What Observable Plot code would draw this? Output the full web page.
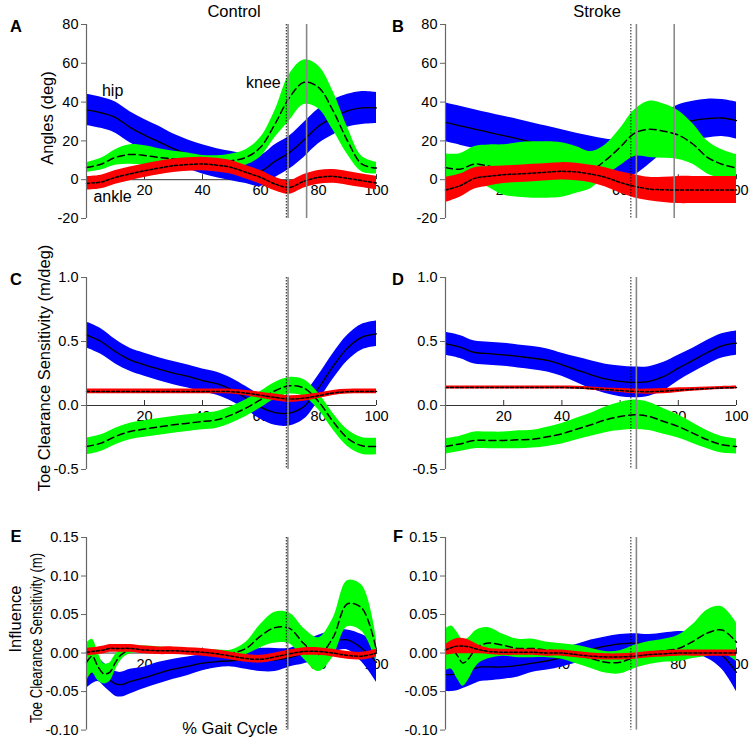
<!DOCTYPE html>
<html><head><meta charset="utf-8">
<script src="https://cdn.jsdelivr.net/npm/d3@7"></script>
<script src="https://cdn.jsdelivr.net/npm/@observablehq/plot@0.6"></script>
<style>
body{margin:0;background:#fff;}
#wrap{position:relative;width:752px;height:742px;overflow:hidden;font-family:"Liberation Sans",Arial,sans-serif;background:#fff;}
#wrap svg{position:absolute;overflow:visible;}
</style></head><body><div id="wrap"></div>
<script>
// ---------- data ----------
const x5 = [0,5,10,15,20,25,30,35,40,45,50,55,60,65,70,75,80,85,90,95,100];
const xE = [0,2,4,6,8,10,12,15,20,25,30,35,40,45,50,55,60,65,70,75,80,85,90,95,100];
const xTicks = [20,40,60,80,100];
const yTicksAngle = [-20,0,20,40,60,80];
const yTicksSens = [-0.5,0,0.5,1.0];
const yTicksInfl = [-0.10,-0.05,0,0.05,0.10,0.15];

const columnTitles = ["Control","Stroke"];
const seriesLabels = ["hip","knee","ankle"];
const seriesLabelX = [9,61,9];
const seriesLabelY = [46,50,-9];

// A: Control angles
const A_hip_m  = [36,34.5,32,27,23,19.5,16,13,10.5,8.5,7,5.5,4.5,9.5,14,20.5,27.5,32,35.5,37,37];
const A_hip_sd = [8,8,8,8,8,8,7.5,7.5,7.5,7.5,7.5,7.5,8,8.5,8.5,9,9,9,8.5,8.5,8];
const A_knee_m = [6.3,8,11.5,13,12.5,11.5,10.7,9.8,9,8.9,9.8,11.5,16.7,28.7,42.4,50.2,47.6,35.6,20,8,6];
const A_knee_sd= [2.5,3,4,5,5,4.5,4,4,3.5,3.5,3.5,4,5,7,12,11.5,11,10,7,4,3];
const A_ank_m  = [-1.9,-1.2,1.2,3,4.6,6,7.2,7.8,8.1,7.5,6.3,3.8,1.2,-2.2,-4,-0.8,1.2,1.7,0.7,-0.5,-1.7];
const A_ank_sd = [3.5,3.5,3.5,3.5,3.5,3.5,3.5,3.5,3.5,3.5,3.5,3.5,3.5,3.5,3.5,3.5,3.5,3.5,3.5,3.5,3.5];
const A_vdot = [68.9], A_vsolid = [69.5,75.9];

// B: Stroke angles
const B_hip_m  = [29.5,27.8,26.1,24.4,22.7,21,19.2,17.5,15.8,14,12.4,11,10.5,12.5,18,24,28.5,30.5,31.5,31.8,30.5];
const B_hip_sd = [10,10,10,10,10,10,10,10,10,10,10,10,10,10,10,10,10,10,10,9.5,9.5];
const B_knee_m = [6.3,5.4,8.1,6.9,5,5,5,5,5,5,5,10,16.7,24,26,25,23,18.4,11.5,8,6];
const B_knee_sd= [7,8,9,11,13,14,14.5,14.5,14,12,9.5,8,9.5,12,14.5,14,12.6,10.5,8.5,7.5,7];
const B_ank_m  = [-5.3,-3.1,0.7,1.8,2.6,3,3.4,3.9,4.3,4,2.9,1.2,-1.4,-3.4,-4.8,-5.2,-5.3,-5.3,-5.3,-5.3,-5.3];
const B_ank_sd = [6.5,6,5.5,5,4.5,4.5,4.5,4.5,4.5,4.5,4.5,5,5.5,6,6,6.5,7,7,7,7,7];
const B_vdot = [63.7], B_vsolid = [65.6,78.6];

// C: Control sensitivity
const C_hip_m  = [0.552,0.5,0.42,0.357,0.318,0.284,0.253,0.227,0.195,0.17,0.123,0.058,-0.013,-0.055,-0.06,-0.008,0.136,0.305,0.448,0.534,0.56];
const C_hip_sd = [0.1,0.1,0.095,0.09,0.09,0.09,0.09,0.09,0.09,0.09,0.09,0.09,0.095,0.1,0.1,0.1,0.1,0.1,0.1,0.1,0.1];
const C_knee_m = [-0.32,-0.294,-0.242,-0.203,-0.184,-0.167,-0.151,-0.138,-0.125,-0.112,-0.073,-0.02,0.045,0.115,0.154,0.136,0.031,-0.125,-0.255,-0.315,-0.32];
const C_knee_sd= [0.065,0.065,0.065,0.065,0.065,0.065,0.065,0.065,0.065,0.065,0.065,0.065,0.065,0.065,0.065,0.065,0.065,0.065,0.065,0.065,0.065];
const C_ank_m  = [0.11,0.11,0.11,0.11,0.11,0.11,0.11,0.11,0.11,0.11,0.108,0.097,0.08,0.063,0.05,0.058,0.076,0.098,0.108,0.11,0.11];
const C_ank_sd = [0.018,0.018,0.018,0.018,0.018,0.018,0.018,0.018,0.018,0.018,0.018,0.02,0.024,0.026,0.026,0.025,0.022,0.02,0.018,0.018,0.018];
const C_vdot = [68.9], C_vsolid = [69.5];

// D: Stroke sensitivity
const D_hip_m  = [0.482,0.457,0.414,0.405,0.396,0.383,0.37,0.352,0.318,0.279,0.24,0.208,0.188,0.18,0.188,0.227,0.292,0.352,0.414,0.466,0.487];
const D_hip_sd = [0.09,0.09,0.09,0.09,0.09,0.09,0.09,0.09,0.09,0.1,0.11,0.115,0.12,0.12,0.115,0.11,0.1,0.095,0.095,0.095,0.095];
const D_knee_m = [-0.32,-0.3,-0.273,-0.273,-0.273,-0.268,-0.263,-0.245,-0.221,-0.185,-0.151,-0.112,-0.086,-0.073,-0.086,-0.125,-0.164,-0.216,-0.268,-0.307,-0.32];
const D_knee_sd= [0.06,0.06,0.065,0.065,0.065,0.07,0.07,0.075,0.08,0.085,0.09,0.1,0.11,0.115,0.11,0.1,0.09,0.08,0.07,0.065,0.06];
const D_ank_m  = [0.14,0.14,0.14,0.14,0.14,0.14,0.14,0.14,0.14,0.138,0.132,0.125,0.117,0.11,0.108,0.112,0.12,0.126,0.132,0.137,0.14];
const D_ank_sd = [0.012,0.012,0.012,0.012,0.012,0.012,0.012,0.012,0.012,0.012,0.012,0.012,0.015,0.018,0.02,0.02,0.018,0.015,0.012,0.012,0.012];
const D_vdot = [63.7], D_vsolid = [65.6];

// E: Control influence (sampled on xE)
const E_hip_m  = [-0.032,-0.025,-0.022,-0.028,-0.035,-0.04,-0.041,-0.037,-0.032,-0.026,-0.021,-0.017,-0.013,-0.011,-0.01,-0.009,-0.009,-0.009,-0.006,0.0,0.008,0.015,0.017,0.006,-0.012];
const E_hip_sd = [0.014,0.015,0.015,0.015,0.015,0.016,0.016,0.016,0.014,0.014,0.013,0.012,0.01,0.008,0.008,0.012,0.015,0.015,0.012,0.014,0.015,0.014,0.013,0.018,0.026];
const E_knee_m = [-0.012,-0.004,-0.018,-0.027,-0.025,-0.012,-0.002,0.004,0.005,0.004,0.003,0.002,0.001,0.0,0.0,0.006,0.022,0.033,0.032,0.012,-0.002,0.02,0.064,0.058,0.003];
const E_knee_sd= [0.025,0.022,0.018,0.013,0.012,0.01,0.007,0.005,0.004,0.004,0.004,0.004,0.004,0.004,0.004,0.008,0.015,0.02,0.02,0.02,0.022,0.025,0.03,0.03,0.015];
const E_ank_m  = [0.001,0.002,0.003,0.004,0.006,0.006,0.006,0.006,0.004,0.003,0.003,0.002,0.001,-0.001,-0.004,-0.007,-0.008,-0.005,-0.001,0.002,0.002,0.0,-0.003,-0.004,0.0];
const E_ank_sd = [0.005,0.005,0.005,0.005,0.005,0.005,0.005,0.005,0.005,0.005,0.005,0.005,0.005,0.005,0.005,0.005,0.005,0.005,0.005,0.005,0.005,0.005,0.005,0.005,0.005];
const E_vdot = [68.9], E_vsolid = [69.4];

// F: Stroke influence (sampled on xE)
const F_hip_m  = [-0.028,-0.028,-0.027,-0.025,-0.023,-0.02,-0.018,-0.018,-0.018,-0.016,-0.013,-0.01,-0.006,-0.001,0.005,0.009,0.012,0.013,0.012,0.013,0.014,0.013,0.008,-0.003,-0.025];
const F_hip_sd = [0.022,0.022,0.022,0.021,0.02,0.02,0.019,0.018,0.016,0.015,0.012,0.012,0.012,0.012,0.012,0.012,0.012,0.012,0.012,0.013,0.014,0.014,0.015,0.018,0.025];
const F_knee_m = [0.004,0.007,-0.003,-0.013,-0.007,0.004,0.01,0.013,0.01,0.006,0.006,0.004,0.002,-0.002,-0.007,-0.012,-0.012,-0.005,0.0,0.003,0.006,0.015,0.026,0.03,0.014];
const F_knee_sd= [0.027,0.028,0.03,0.03,0.027,0.024,0.022,0.02,0.014,0.012,0.012,0.01,0.01,0.012,0.013,0.014,0.015,0.015,0.015,0.015,0.017,0.022,0.03,0.03,0.025];
const F_ank_m  = [0.004,0.007,0.009,0.009,0.008,0.006,0.004,0.002,0.001,0.001,0.001,0.0,0.0,-0.002,-0.004,-0.005,-0.005,-0.004,-0.002,-0.001,0.0,0.0,0.0,0.0,0.0];
const F_ank_sd = [0.007,0.009,0.01,0.01,0.009,0.007,0.005,0.004,0.004,0.004,0.004,0.004,0.004,0.004,0.004,0.004,0.004,0.004,0.004,0.004,0.004,0.004,0.004,0.004,0.004];
const F_vdot = [63.7], F_vsolid = [65.6];

// ---------- build ----------
const FONT = '"Liberation Sans", Arial, sans-serif';
const rows = (xs, m, sd) => xs.map((x, i) => ({x, m: m[i], lo: m[i] - sd[i], hi: m[i] + sd[i]}));
const fmtAngle = d => String(d);
const fmt1 = d => d.toFixed(1);
const fmt2 = d => d.toFixed(2);

const panels = [
  {left:86,  top:24,    w:290, h:194,   dom:[-20,80],   yt:yTicksAngle, f:fmtAngle, xs:x5, hip:[A_hip_m,A_hip_sd], knee:[A_knee_m,A_knee_sd], ank:[A_ank_m,A_ank_sd], vd:A_vdot, vs:A_vsolid, labels:true},
  {left:445, top:24,    w:291, h:194,   dom:[-20,80],   yt:yTicksAngle, f:fmtAngle, xs:x5, hip:[B_hip_m,B_hip_sd], knee:[B_knee_m,B_knee_sd], ank:[B_ank_m,B_ank_sd], vd:B_vdot, vs:B_vsolid},
  {left:86,  top:277.3, w:290, h:192,   dom:[-0.5,1.0], yt:yTicksSens,  f:fmt1, xs:x5, hip:[C_hip_m,C_hip_sd], knee:[C_knee_m,C_knee_sd], ank:[C_ank_m,C_ank_sd], vd:C_vdot, vs:C_vsolid},
  {left:445, top:277.3, w:291, h:192,   dom:[-0.5,1.0], yt:yTicksSens,  f:fmt1, xs:x5, hip:[D_hip_m,D_hip_sd], knee:[D_knee_m,D_knee_sd], ank:[D_ank_m,D_ank_sd], vd:D_vdot, vs:D_vsolid},
  {left:86,  top:536.7, w:290, h:192.6, dom:[-0.1,0.15],yt:yTicksInfl,  f:fmt2, xs:xE, hip:[E_hip_m,E_hip_sd], knee:[E_knee_m,E_knee_sd], ank:[E_ank_m,E_ank_sd], vd:E_vdot, vs:E_vsolid},
  {left:445, top:536.7, w:291, h:192.6, dom:[-0.1,0.15],yt:yTicksInfl,  f:fmt2, xs:xE, hip:[F_hip_m,F_hip_sd], knee:[F_knee_m,F_knee_sd], ank:[F_ank_m,F_ank_sd], vd:F_vdot, vs:F_vsolid}
];

const wrap = document.getElementById("wrap");
const ML = 60, MR = 30, MT = 6, MB = 6;
const CURVE = "catmull-rom";

for (const p of panels) {
  const tickLen = 5 * (p.dom[1] - p.dom[0]) / p.h;
  const hip = rows(p.xs, ...p.hip), knee = rows(p.xs, ...p.knee), ank = rows(p.xs, ...p.ank);
  const marks = [
    Plot.ruleY([0], {stroke: "#333", strokeWidth: 1}),
    Plot.ruleX(xTicks, {x: d => d, y1: () => 0, y2: () => tickLen, stroke: "#333"}),
    Plot.text(xTicks, {x: d => d, y: () => 0, text: d => String(d), dy: 11, fontSize: 14.5, fill: "#000"}),
    Plot.axisY(p.yt, {tickSize: 5, tickPadding: 3, tickFormat: p.f, fontSize: 14.5, stroke: "#666", fill: "#000"}),
    Plot.areaY(hip, {x: "x", y1: "lo", y2: "hi", fill: "#0000ff", curve: CURVE}),
    Plot.line(hip, {x: "x", y: "m", stroke: "#000", strokeWidth: 1.3, curve: CURVE}),
    Plot.areaY(knee, {x: "x", y1: "lo", y2: "hi", fill: "#00ff00", curve: CURVE}),
    Plot.line(knee, {x: "x", y: "m", stroke: "#000", strokeWidth: 1.5, strokeDasharray: "7,4", curve: CURVE}),
    Plot.areaY(ank, {x: "x", y1: "lo", y2: "hi", fill: "#ff0000", curve: CURVE}),
    Plot.line(ank, {x: "x", y: "m", stroke: "#000", strokeWidth: 1.5, strokeDasharray: "3,2", curve: CURVE}),
    Plot.ruleX(p.vd, {x: d => d, stroke: "#000", strokeWidth: 0.9, strokeDasharray: "1.5,1.5"}),
    Plot.ruleX(p.vs, {x: d => d, stroke: "#888", strokeWidth: 1.6}),
    Plot.ruleX([0], {stroke: "#666", strokeWidth: 1.2})
  ];
  if (p.labels) {
    marks.push(Plot.text(seriesLabels, {x: (d, i) => seriesLabelX[i], y: (d, i) => seriesLabelY[i], text: d => d, fontSize: 16, fill: "#000"}));
  }
  const svg = Plot.plot({
    width: p.w + ML + MR,
    height: p.h + MT + MB,
    marginLeft: ML, marginRight: MR, marginTop: MT, marginBottom: MB,
    x: {domain: [0, 100], axis: null},
    y: {domain: p.dom, axis: null},
    style: {fontFamily: FONT, background: "transparent", overflow: "visible"},
    marks
  });
  svg.style.left = (p.left - ML) + "px";
  svg.style.top = (p.top - MT) + "px";
  wrap.appendChild(svg);
}

// ---------- overlay texts ----------
const ov = d3.create("svg").attr("width", 752).attr("height", 742)
  .style("left", "0px").style("top", "0px").style("pointer-events", "none")
  .attr("font-family", FONT);
ov.append("text").attr("x", 234).attr("y", 11).attr("text-anchor", "middle").attr("dominant-baseline", "central").attr("font-size", 16.5).text(columnTitles[0]);
ov.append("text").attr("x", 597).attr("y", 11).attr("text-anchor", "middle").attr("dominant-baseline", "central").attr("font-size", 16.5).text(columnTitles[1]);
const letters = [["A",16,26],["B",398,26],["C",16,279],["D",398,279],["E",16,536],["F",398,536]];
for (const [t, x, y] of letters) {
  ov.append("text").attr("x", x).attr("y", y).attr("text-anchor", "middle").attr("dominant-baseline", "central")
    .attr("font-size", 16.5).attr("font-weight", "bold").text(t);
}
const ylab = (t, x, y, size, len) => {
  const el = ov.append("text").attr("transform", `translate(${x},${y}) rotate(-90)`)
    .attr("text-anchor", "middle").attr("dominant-baseline", "central").attr("font-size", size).text(t);
  if (len) el.attr("textLength", len).attr("lengthAdjust", "spacingAndGlyphs");
};
ylab("Angles (deg)", 47, 118, 16.5);
ylab("Toe Clearance Sensitivity (m/deg)", 44, 368, 16.5);
ylab("Influence", 15, 619, 16.5);
ylab("Toe Clearance Sensitivity (m)", 36, 638, 16.5, 170);
ov.append("text").attr("x", 230).attr("y", 728).attr("text-anchor", "middle").attr("dominant-baseline", "central").attr("font-size", 16.5).text("% Gait Cycle");
wrap.appendChild(ov.node());
</script></body></html>
